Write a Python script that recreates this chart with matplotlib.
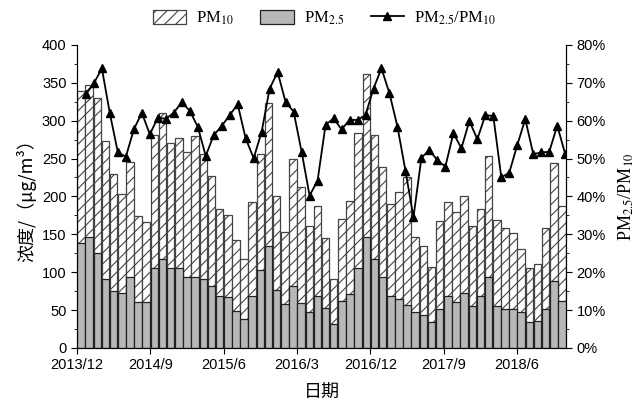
import numpy as np
import matplotlib
matplotlib.use("Agg")
import matplotlib.pyplot as plt
from matplotlib.patches import Patch
from matplotlib.lines import Line2D
from matplotlib.ticker import MultipleLocator, PercentFormatter

plt.rcParams["font.family"] = ["Liberation Sans", "DejaVu Sans"]
plt.rcParams["mathtext.fontset"] = "stix"
plt.rcParams["hatch.linewidth"] = 0.8

# monthly concentrations (ug/m3)
pm10 = [339, 347, 330, 273, 230, 203, 245, 174, 166, 281,
        310, 270, 277, 258, 280, 256, 227, 183, 176, 142,
        118, 192, 256, 324, 201, 153, 249, 212, 161, 188,
        145, 91, 170, 194, 284, 362, 281, 239, 190, 206,
        226, 146, 134, 107, 167, 192, 179, 201, 161, 183,
        254, 169, 158, 152, 130, 105, 111, 158, 244, 188]
pm25 = [138, 146, 125, 91, 75, 72, 93, 61, 61, 105,
        117, 105, 105, 93, 93, 91, 82, 68, 67, 49,
        38, 68, 103, 135, 77, 58, 82, 59, 48, 68,
        53, 32, 62, 71, 106, 146, 118, 94, 68, 64,
        56, 47, 44, 34, 52, 68, 60, 73, 55, 68,
        94, 55, 52, 51, 48, 34, 36, 52, 88, 62]
# PM2.5/PM10 ratio (%), 61 points
ratio = [67.0, 69.9, 73.8, 61.9, 51.6, 50.5, 57.7, 62.1, 56.4, 60.8,
         60.5, 62.1, 64.9, 62.6, 58.4, 50.7, 56.2, 58.6, 61.5, 64.3,
         55.3, 50.1, 57.1, 68.5, 72.8, 64.9, 62.4, 51.8, 40.2, 44.2,
         58.9, 60.6, 57.7, 60.2, 60.2, 61.5, 68.5, 73.8, 67.2, 58.4,
         46.8, 34.5, 50.2, 52.3, 49.5, 47.9, 56.7, 52.7, 59.9, 55.1,
         61.5, 61.2, 45.0, 46.3, 53.6, 60.4, 51.2, 51.6, 51.8, 58.7,
         51.2]
tick_labels = ["2013/12", "2014/9", "2015/6", "2016/3", "2016/12", "2017/9", "2018/6"]

fig = plt.figure(figsize=(6.36, 4.05), dpi=100)
ax = fig.add_axes([0.121, 0.141, 0.769, 0.748])

x = np.arange(len(pm10)) + 0.5                         # bar centres
ax.bar(x, pm10, width=0.92, facecolor="white", edgecolor="#444444",
       hatch="///", lw=0.9, zorder=2)
ax.bar(x, pm25, width=0.92, facecolor="#b8b8b8", edgecolor="#222222",
       lw=0.9, zorder=3)

ax.set_xlim(0, len(pm10))
ax.set_ylim(0, 400)
ax.set_xticks(np.arange(len(tick_labels)) * 9)
ax.set_xticklabels(tick_labels, fontsize=10.5)
ax.yaxis.set_major_locator(MultipleLocator(50))
ax.yaxis.set_minor_locator(MultipleLocator(25))
ax.tick_params(axis="y", labelsize=10.5, direction="out", length=4)
ax.tick_params(axis="y", which="minor", direction="out", length=2)
ax.tick_params(axis="x", direction="out", length=4)
ax.spines["top"].set_visible(False)
ax.set_xlabel("日期", fontsize=13, family=["Noto Sans CJK SC", "DejaVu Sans"], labelpad=8)
ax.set_ylabel("浓度/（μg/m³）", fontsize=13, family=["Noto Sans CJK SC", "DejaVu Sans"], labelpad=4)

ax2 = ax.twinx()
xr = np.linspace(1.1, 59.9, len(ratio))                # ratio layer spans a slightly different x scale
ax2.plot(xr, ratio, color="black", lw=1.3, marker="^", ms=5.5, zorder=4)
ax2.set_ylim(0, 80)
ax2.yaxis.set_major_locator(MultipleLocator(10))
ax2.yaxis.set_minor_locator(MultipleLocator(5))
ax2.yaxis.set_major_formatter(PercentFormatter(decimals=0))
ax2.tick_params(axis="y", labelsize=10.5, direction="out", length=4)
ax2.tick_params(axis="y", which="minor", direction="out", length=2)
ax2.spines["top"].set_visible(False)
ax2.set_ylabel(r"PM$_{2.5}$/PM$_{10}$", fontsize=13, family="Liberation Serif", labelpad=8)

handles = [Patch(facecolor="white", edgecolor="#444444", hatch="///", lw=0.9),
           Patch(facecolor="#b8b8b8", edgecolor="#222222", lw=0.9),
           Line2D([], [], color="black", lw=1.3, marker="^", ms=5.5)]
fig.legend(handles, [r"PM$_{10}$", r"PM$_{2.5}$", r"PM$_{2.5}$/PM$_{10}$"],
           loc="center", bbox_to_anchor=(0.51, 0.955), ncol=3, frameon=False,
           prop={"family": "Liberation Serif", "size": 12},
           handlelength=2.0, handleheight=0.9, columnspacing=1.6, handletextpad=0.6)

fig.savefig("out.png", dpi=100)
